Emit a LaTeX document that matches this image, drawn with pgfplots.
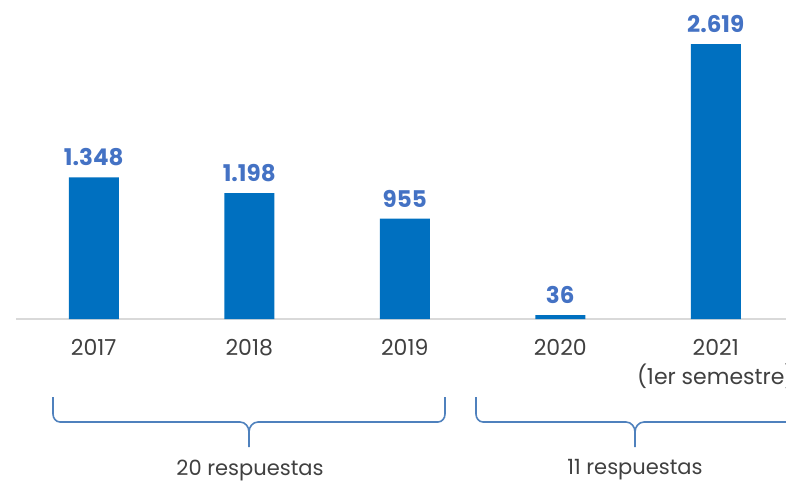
\documentclass[border=0pt]{standalone}
\usepackage{fontspec}
\setmainfont{Poppins}
\usepackage{pgfplots}
\pgfplotsset{compat=1.18}
\definecolor{barblue}{HTML}{0070C0}
\definecolor{lblblue}{HTML}{4472C4}
\definecolor{txtgray}{HTML}{404040}
\definecolor{bracecol}{HTML}{4F81BD}
\definecolor{axgray}{HTML}{D9D9D9}

\begin{document}
\begin{tikzpicture}
\path[use as bounding box] (0,0) rectangle (393pt,244.5pt);
\clip (0,0) rectangle (393pt,244.5pt);
\begin{axis}[
    at={(8pt,85pt)}, anchor=south west,
    scale only axis,
    width=388.75pt, height=157.5pt,
    xmin=-0.5, xmax=4.5, ymin=0, ymax=3000,
    axis x line=bottom, axis y line=none,
    x axis line style={-, draw=axgray, line width=0.75pt},
    ybar, bar width=25pt,
    xtick={0,1,2,3,4},
    xticklabels={2017,2018,2019,2020,{2021\\(1er semestre)}},
    major tick length=0pt,
    xticklabel style={align=center, anchor=north, inner sep=0pt, yshift=-10pt,
        text=txtgray, font=\fontsize{11}{14.5}\selectfont},
    nodes near coords,
    every node near coord/.append style={font=\bfseries\fontsize{11.5}{13}\selectfont,
        text=lblblue, anchor=south, inner sep=0pt, yshift=5.5pt},
    /pgf/number format/1000 sep={.},
    /pgf/number format/assume math mode=true,
    clip=false,
]
\addplot[fill=barblue, draw=none] coordinates {(0,1348) (1,1198) (2,955) (3,36) (4,2619)};
\end{axis}
\begin{scope}[x=0.5pt, y=-0.5pt, shift={(0,244.5pt)}, draw=bracecol, line width=0.8pt]
  % first brace
  \draw (53,397) -- (53,414) to[out=-90,in=180] (60,422) -- (240,422) to[out=0,in=90] (249,432) -- (249,447);
  \draw (445,397) -- (445,414) to[out=-90,in=0] (438,422) -- (258,422) to[out=180,in=90] (249,432);
  % second brace
  \draw (476,397) -- (476,414) to[out=-90,in=180] (483,422) -- (626,422) to[out=0,in=90] (635,432) -- (635,447);
  \draw (794,397) -- (794,414) to[out=-90,in=0] (787,422) -- (644,422) to[out=180,in=90] (635,432);
  \node[text=txtgray, font=\fontsize{10.5}{12}\selectfont] at (250,470) {20 respuestas};
  \node[text=txtgray, font=\fontsize{10.5}{12}\selectfont] at (635,470) {11 respuestas};
\end{scope}
\end{tikzpicture}
\end{document}
